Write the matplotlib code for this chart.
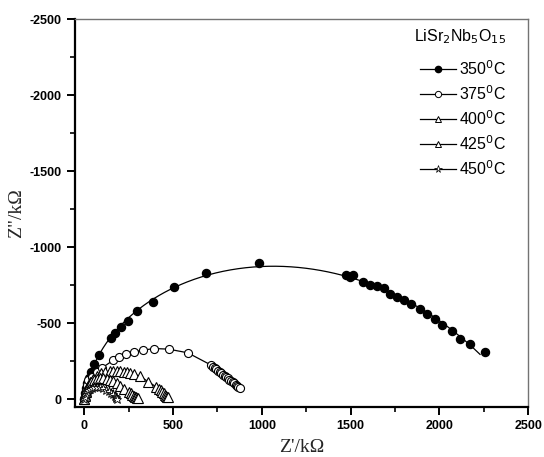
"""Nyquist plot of LiSr2Nb5O15 at several temperatures."""

import numpy as np
import matplotlib.pyplot as plt
from matplotlib.ticker import MultipleLocator

# Z' (kOhm) and Z'' (kOhm), Z'' stored as negative values
z350_re = [0, 3, 7, 12, 18, 26, 36, 53, 84, 150, 171, 208, 246, 300, 390, 505,
           685, 985, 1473, 1498, 1511, 1569, 1607, 1648, 1686, 1723, 1761, 1798,
           1841, 1892, 1930, 1973, 2014, 2070, 2117, 2173, 2258]
z350_im = [0, -15, -40, -70, -105, -140, -180, -228, -289, -399, -432, -472,
           -515, -579, -636, -739, -827, -895, -816, -805, -816, -772, -754,
           -743, -728, -695, -673, -651, -623, -592, -559, -526, -491, -447,
           -395, -360, -311]

z375_re = [0, 3, 8, 15, 24, 43, 71, 100, 165, 197, 234, 281, 330, 394, 475,
           583, 715, 726, 735, 745, 754, 764, 773, 782, 791, 800, 809, 818,
           827, 836, 845, 853, 861, 869, 876]
z375_im = [0, -20, -55, -90, -125, -147, -180, -205, -257, -274, -296, -311,
           -322, -333, -329, -305, -224, -213, -205, -196, -187, -179, -170,
           -162, -153, -145, -137, -128, -120, -112, -104, -96, -89, -82, -76]

z400_re = [0, 5, 12, 22, 35, 50, 70, 95, 120, 146, 165, 185, 203, 222, 241,
           260, 280, 315, 362, 405, 420, 432, 441, 449, 456, 462, 468, 473]
z400_im = [0, -25, -55, -85, -112, -135, -155, -170, -178, -182, -184, -184,
           -183, -180, -176, -171, -165, -150, -114, -81, -68, -57, -47, -38,
           -30, -23, -17, -12]

z425_re = [0, 4, 10, 18, 28, 40, 55, 72, 90, 109, 128, 147, 165, 185, 203,
           225, 250, 262, 272, 280, 287, 293, 298, 303]
z425_im = [0, -22, -48, -72, -93, -110, -123, -132, -137, -138, -135, -128,
           -118, -103, -88, -68, -48, -38, -30, -23, -17, -12, -8, -5]

z450_re = [0, 3, 8, 14, 22, 32, 44, 58, 73, 90, 107, 124, 140, 153, 163, 171,
           177, 182, 186]
z450_im = [0, -15, -32, -47, -59, -68, -75, -78, -79, -77, -72, -63, -52, -41,
           -31, -22, -14, -8, -3]

labels = ["350$^0$C", "375$^0$C", "400$^0$C", "425$^0$C", "450$^0$C"]


def arc_fit(x, y, n=400):
    """Smooth depressed arc: circle-fit centre, then r(theta) as a cubic."""
    x = np.asarray(x, float)
    y = np.asarray(y, float)
    a = np.column_stack([x, y, np.ones_like(x)])
    c, *_ = np.linalg.lstsq(a, x ** 2 + y ** 2, rcond=None)
    xc, yc = c[0] / 2, c[1] / 2
    theta = np.arctan2(y - yc, x - xc)
    theta = np.where(theta > 0, theta - 2 * np.pi, theta)
    radius = np.hypot(x - xc, y - yc)
    coef = np.polyfit(theta, radius, 3)
    tt = np.linspace(theta[0], theta[-1], n)
    rr = np.polyval(coef, tt)
    return xc + rr * np.cos(tt), yc + rr * np.sin(tt)


plt.rcParams["font.family"] = ["Liberation Sans", "DejaVu Sans"]
plt.rcParams["axes.unicode_minus"] = False

fig = plt.figure(figsize=(5.44, 4.57), dpi=100)
ax = fig.add_axes([0.138, 0.109, 0.833, 0.849])

# 350 C: smooth fitted arc plus markers
fit_x, fit_y = arc_fit(z350_re, z350_im)
ax.plot(fit_x, fit_y, color="black", lw=0.9)
ax.plot(z350_re, z350_im, "o", color="black", ms=5.8, mfc="black", mec="black")

ax.plot(z375_re, z375_im, "-o", color="black", lw=0.9, ms=5.8, mfc="white", mec="black", mew=0.8)
ax.plot(z400_re, z400_im, "-^", color="black", lw=0.9, ms=6.5, mfc="white", mec="black", mew=0.8)
ax.plot(z425_re, z425_im, "-^", color="black", lw=0.9, ms=6.5, mfc="white", mec="black", mew=0.8)
ax.plot(z450_re, z450_im, "-*", color="black", lw=0.9, ms=6.5, mfc="white", mec="black", mew=0.6)

ax.set_xlim(-51, 2500)
ax.set_ylim(53, -2500)
ax.xaxis.set_major_locator(MultipleLocator(500))
ax.xaxis.set_minor_locator(MultipleLocator(250))
ax.yaxis.set_major_locator(MultipleLocator(500))
ax.yaxis.set_minor_locator(MultipleLocator(250))
ax.tick_params(which="major", direction="out", length=6, width=1.4, labelsize=9)
ax.tick_params(which="minor", direction="out", length=3.5, width=1.2)
ax.tick_params(top=False, right=False, which="both")
for lab in ax.get_xticklabels() + ax.get_yticklabels():
    lab.set_fontweight("bold")

ax.spines["left"].set_linewidth(1.6)
ax.spines["bottom"].set_linewidth(1.6)
for side in ("top", "right"):
    ax.spines[side].set_color("0.45")
    ax.spines[side].set_linewidth(1.0)

ax.set_xlabel("Z'/k\u03a9", family="Liberation Serif", fontsize=14, color="0.15", labelpad=5)
ax.set_ylabel("Z\"/k\u03a9", family="Liberation Serif", fontsize=14, color="0.15")
ax.yaxis.set_label_coords(-0.11, 0.5)

handles = [
    plt.Line2D([0], [0], color="black", lw=0.9, marker="o", ms=4.5, mfc="black", mec="black"),
    plt.Line2D([0], [0], color="black", lw=0.9, marker="o", ms=4.5, mfc="white", mec="black", mew=0.7),
    plt.Line2D([0], [0], color="black", lw=0.9, marker="^", ms=4.5, mfc="white", mec="black", mew=0.7),
    plt.Line2D([0], [0], color="black", lw=0.9, marker="^", ms=4.5, mfc="white", mec="black", mew=0.7),
    plt.Line2D([0], [0], color="black", lw=0.9, marker="*", ms=5.5, mfc="white", mec="black", mew=0.5),
]
leg = ax.legend(handles, labels, title="LiSr$_2$Nb$_5$O$_{15}$", loc="upper right",
                bbox_to_anchor=(0.972, 1.003), frameon=False, fontsize=11.5,
                title_fontsize=11.5, handlelength=2.3, handletextpad=0.15,
                labelspacing=0.4, borderaxespad=0.2)
leg._legend_box.align = "right"
leg._legend_box.sep = 9

fig.savefig("out.png", dpi=100)
